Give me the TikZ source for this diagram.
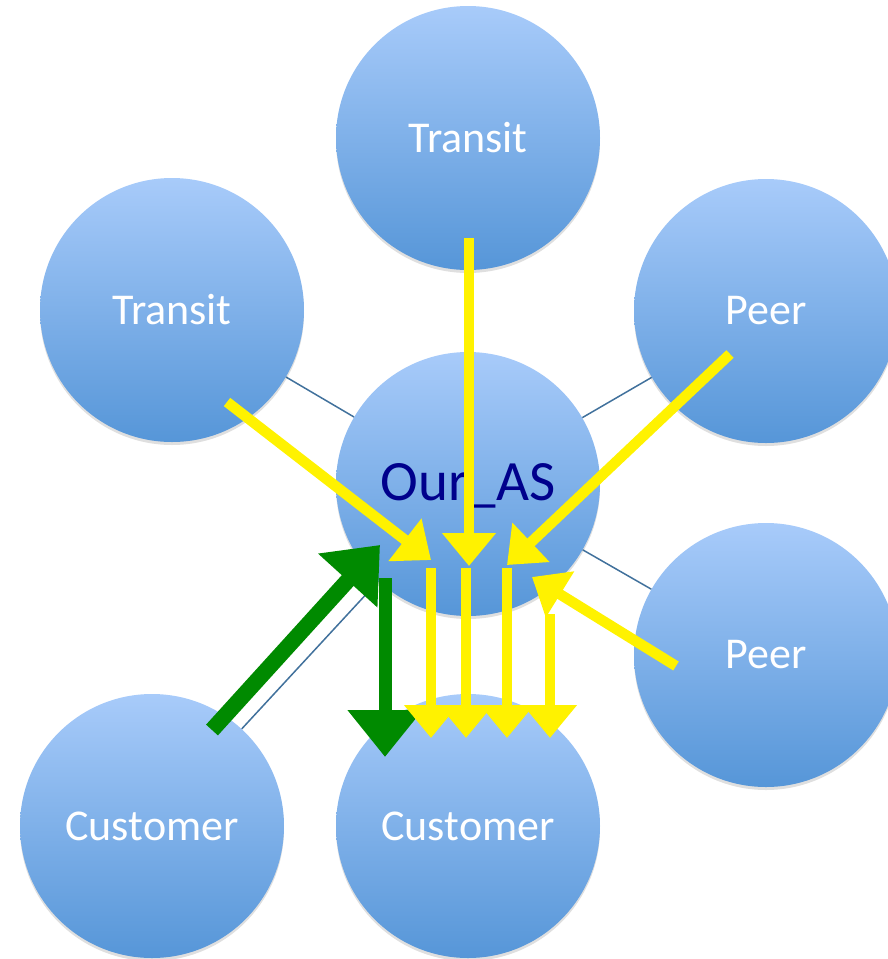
\documentclass[tikz,border=0pt]{standalone}
\usepackage{fontspec}
\setmainfont{Carlito}
\usetikzlibrary{arrows.meta,shadows}

\definecolor{astop}{RGB}{168,203,250}
\definecolor{asbottom}{RGB}{86,150,216}
\definecolor{linkblue}{RGB}{65,113,156}
\definecolor{ournavy}{RGB}{0,0,140}
\definecolor{routegreen}{RGB}{0,138,0}

\begin{document}
\begin{tikzpicture}
	[x=1pt, y=-1pt,
	 as/.style={circle, minimum size=264pt, inner sep=0pt, top color=astop, bottom color=asbottom,
	 	drop shadow={opacity=0.25, shadow xshift=0pt, shadow yshift=-3pt},
	 	text=white, font=\fontsize{44}{50}\selectfont},
	 link/.style={draw=linkblue, line width=1.5pt},
	 yroute/.style={draw=yellow, line width=10.5pt, -{Triangle[length=33pt, width=52pt]}},
	 groute/.style={draw=routegreen, line width=13pt, -{Triangle[length=47pt, width=72pt]}}]
	\useasboundingbox (0,0) rectangle (888,959);
	\clip (0,0) rectangle (888,959);

	\node[as] (tr1) at (468,138) {Transit};
	\node[as] (tr2) at (172,310) {Transit};
	\node[as] (peer1) at (766,311) {Peer};
	\node[as] (ours) at (468,484) {};
	\node[as] (peer2) at (766,655) {Peer};
	\node[as] (cust1) at (152,826) {Customer};
	\node[as] (cust2) at (468,826) {Customer};
	\node[text=ournavy, font=\fontsize{57}{62}\selectfont] (ourlabel) at (468,486) {Our\_AS};

	\draw[link] (ours) -- (tr1);
	\draw[link] (ours) -- (tr2);
	\draw[link] (ours) -- (peer1);
	\draw[link] (ours) -- (peer2);
	\draw[link] (ours) -- (cust1);
	\draw[link] (ours) -- (cust2);

	\coordinate (in1) at (227,402);	\coordinate (at1) at (431,560);
	\coordinate (in2) at (469,238);	\coordinate (at2) at (469,566);
	\coordinate (in3) at (730,354);	\coordinate (at3) at (507,565);
	\coordinate (in4) at (676,666);	\coordinate (at4) at (532,577);
	\coordinate (out1) at (431,568);	\coordinate (to1) at (431,738);
	\coordinate (out2) at (466,568);	\coordinate (to2) at (466,738);
	\coordinate (out3) at (507,568);	\coordinate (to3) at (507,738);
	\coordinate (out4) at (550,614);	\coordinate (to4) at (550,738);
	\coordinate (cin) at (212,730);	\coordinate (cat) at (380,545);
	\coordinate (cout) at (385,578);	\coordinate (cto) at (385,757);

	\draw[yroute] (in1) -- (at1);
	\draw[yroute] (in2) -- (at2);
	\draw[yroute] (in3) -- (at3);
	\draw[yroute] (in4) -- (at4);
	\draw[groute, line width=16pt, -{Triangle[length=48pt, width=77pt]}] (cin) -- (cat);
	\draw[groute] (cout) -- (cto);
	\draw[yroute] (out1) -- (to1);
	\draw[yroute] (out2) -- (to2);
	\draw[yroute] (out3) -- (to3);
	\draw[yroute] (out4) -- (to4);
\end{tikzpicture}
\end{document}
